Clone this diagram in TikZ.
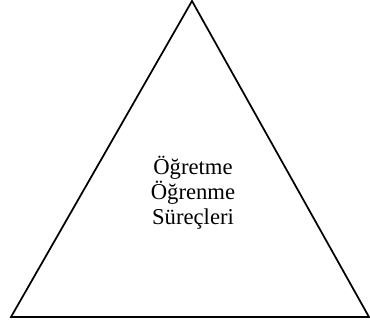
\documentclass[tikz,border=0pt]{standalone}
\usepackage{fontspec}
\setmainfont{Liberation Serif}
\usepackage{tikz}
\usetikzlibrary{positioning}

\begin{document}
\begin{tikzpicture}[x=0.75pt, y=-0.75pt, font=\fontsize{17}{18.8}\selectfont]
  \useasboundingbox (0,0) rectangle (370,328);
  % corners
  \coordinate (apex) at (192,1);
  \coordinate (left) at (11,317);
  \coordinate (right) at (369,317);
  \draw[line width=1.3pt, line join=miter] (apex) -- (left) -- (right) -- cycle;
  % text
  \node[align=center, inner sep=0pt] (proc) at (193,193) {Öğretme\\Öğrenme\\Süreçleri};
\end{tikzpicture}
\end{document}
